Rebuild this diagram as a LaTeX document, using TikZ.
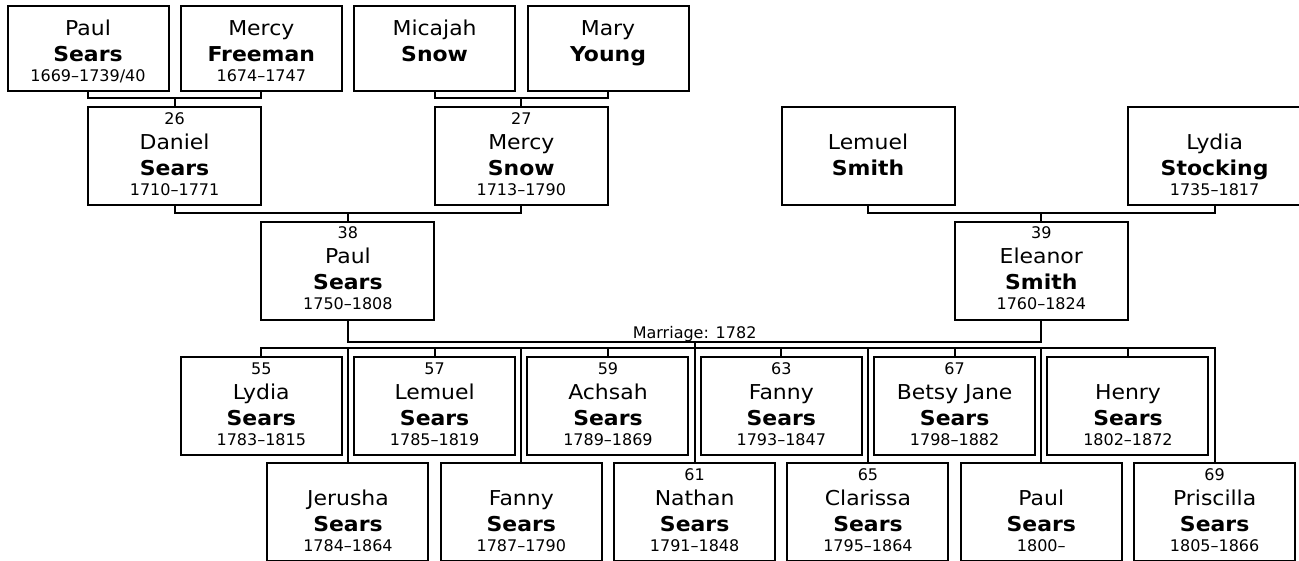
\documentclass[tikz,border=0pt]{standalone}
\usepackage{fontspec}
\setmainfont{DejaVu Sans}
\newfontfamily\namefont{DejaVu Sans}[FakeStretch=1.07]
\begin{document}
\begin{tikzpicture}[x=1pt, y=-1pt, line width=2pt,
		pbox/.style={draw, inner sep=0pt, align=center, text width=161pt, minimum height=98pt, font=\namefont\fontsize{20.5}{26}\selectfont},
		wide/.style={text width=173pt},
		low/.style={minimum height=85pt}]
		\def\sm{\normalfont\fontsize{16}{26}\selectfont}
		\def\gp#1#2#3{\noindent\rule{0pt}{25pt}#1\\\textbf{#2}\\[-6pt]{\sm#3\rule[-5pt]{0pt}{5pt}}}
		\def\pp#1#2#3#4{\noindent{\sm\rule{0pt}{12pt}#1}\\[-1pt]#2\\\textbf{#3}\\[-6pt]{\sm#4\rule[-5pt]{0pt}{5pt}}}
		\path[use as bounding box, fill=white] (0,0) rectangle (1299,560);
		% great-grandparents
		\node[pbox, low] (ps) at (88,48.5) {\gp{Paul}{Sears}{1669--1739/40}};
		\node[pbox, low] (mf) at (261.3,48.5) {\gp{Mercy}{Freeman}{1674--1747}};
		\node[pbox, low] (mi) at (434.6,48.5) {\gp{Micajah}{Snow}{}};
		\node[pbox, low] (my) at (608,48.5) {\gp{Mary}{Young}{}};
		% grandparents
		\node[pbox, wide] (dan) at (174.6,156.3) {\pp{26}{Daniel}{Sears}{1710--1771}};
		\node[pbox, wide] (msn) at (521.3,156.3) {\pp{27}{Mercy}{Snow}{1713--1790}};
		\node[pbox, wide] (lsm) at (868,156.3) {\pp{}{Lemuel}{Smith}{}};
		\node[pbox, wide] (lst) at (1214.6,156.3) {\pp{}{Lydia}{Stocking}{1735--1817}};
		% parents
		\node[pbox, wide] (pl) at (347.9,270.5) {\pp{38}{Paul}{Sears}{1750--1808}};
		\node[pbox, wide] (el) at (1041.3,270.5) {\pp{39}{Eleanor}{Smith}{1760--1824}};
		% children, upper and lower row in turn
		\foreach \n/\f/\d [count=\i] in {55/Lydia/1783--1815, /Jerusha/1784--1864, 57/Lemuel/1785--1819, /Fanny/1787--1790, 59/Achsah/1789--1869, 61/Nathan/1791--1848, 63/Fanny/1793--1847, 65/Clarissa/1795--1864, 67/Betsy Jane/1798--1882, /Paul/1800--, /Henry/1802--1872, 69/Priscilla/1805--1866}{
			\pgfmathsetmacro\yy{isodd(\i) ? 406 : 512}
			\node[pbox] (c\i) at ({1.3+(\i+2)*86.667},\yy) {\pp{\n}{\f}{Sears}{\d}};
		}
		\foreach \a/\b/\c in {ps/mf/dan, mi/my/msn, dan/msn/pl, lsm/lst/el}
			\draw (\c.north) -- ++(0,-8) coordinate (j) (\a.south) |- (j) -| (\b.south);
		\draw (pl.south) -- ++(0,21.5) coordinate (mr) -| (el.south);
		\node[anchor=base, yshift=3.2pt, inner sep=0pt, font=\sm] (mlab) at (c6.north |- mr) {Marriage: 1782};
		\draw (c6.north) -- (c6.north |- mr);
		\draw (c1.north) -- ++(0,-8) coordinate (sb) -| (c12.north);
		\foreach \i in {2,...,11} \draw (c\i.north) -- (c\i.north |- sb);
	\end{tikzpicture}
\end{document}
